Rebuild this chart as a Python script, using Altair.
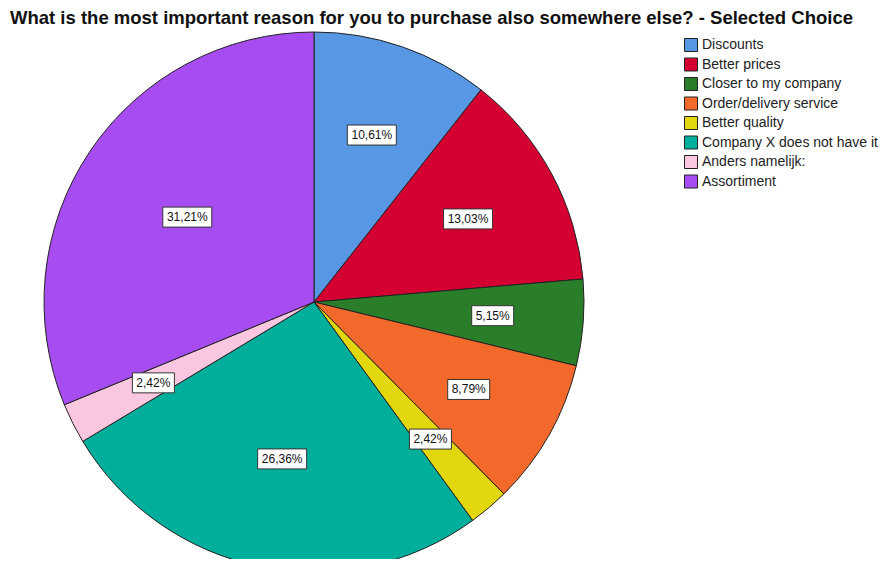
import altair as alt
import pandas as pd

categories = ["Discounts", "Better prices", "Closer to my company", "Order/delivery service",
              "Better quality", "Company X does not have it", "Anders namelijk:", "Assortiment"]
percent = [10.61, 13.03, 5.15, 8.79, 2.42, 26.36, 2.42, 31.21]
labels = ["10,61%", "13,03%", "5,15%", "8,79%", "2,42%", "26,36%", "2,42%", "31,21%"]
colors = ["#5797E4", "#D50032", "#2A7E2A", "#F3692C", "#E2D60C", "#00AF9B", "#FBC6DF", "#A64CF0"]

df = pd.DataFrame({"cat": categories, "v": percent, "lab": labels, "idx": list(range(len(categories)))})

CX, CY, R = 306, 294, 270

base = alt.Chart(df)

color = alt.Color("cat:N", scale=alt.Scale(domain=categories, range=colors),
                  legend=alt.Legend(title=None, orient="none", legendX=676, legendY=30,
                                    symbolType="square", symbolSize=169, symbolStrokeColor="#222",
                                    symbolStrokeWidth=1, labelFont="Liberation Sans", labelFontSize=14,
                                    labelColor="#222", rowPadding=1.5, padding=0, labelOffset=4,
                                    labelLimit=300))

pie = base.mark_arc(outerRadius=R, stroke="#222", strokeWidth=1).encode(
    theta=alt.Theta("v:Q", stack=True),
    color=color,
    order=alt.Order("idx:Q"),
    x=alt.value(CX), y=alt.value(CY),
)

pos = base.transform_window(cum="sum(v)", sort=[alt.SortField("idx")], frame=[None, 0]).transform_joinaggregate(
    tot="sum(v)").transform_calculate(
    ang="(datum.cum - datum.v/2) / datum.tot * 2 * PI",
    half="datum.v / datum.tot * PI",
).transform_calculate(
    lr=f"2 * {R} * sin(datum.half) / (3 * datum.half)",
).transform_calculate(
    lx=f"{CX} + datum.lr * sin(datum.ang)",
    ly=f"{CY} - datum.lr * cos(datum.ang)",
    w="7 * length(datum.lab) + 7",
).transform_calculate(
    x1="datum.lx - datum.w/2", x2="datum.lx + datum.w/2",
    y1="datum.ly - 10", y2="datum.ly + 10",
)

boxes = pos.mark_rect(fill="white", stroke="#333", strokeWidth=1).encode(
    x=alt.X("x1:Q", scale=None), x2="x2:Q",
    y=alt.Y("y1:Q", scale=None), y2="y2:Q",
)
texts = pos.mark_text(font="Liberation Sans", fontSize=12, color="#111").encode(
    x=alt.X("lx:Q", scale=None), y=alt.Y("ly:Q", scale=None), text="lab:N",
)

title = alt.Chart(pd.DataFrame({"t": ["What is the most important reason for you to purchase also somewhere else? - Selected Choice"]})).mark_text(
    font="Liberation Sans", fontWeight="bold", fontSize=18.5, align="left", baseline="alphabetic", color="#111"
).encode(x=alt.value(2), y=alt.value(16), text="t:N")

chart = alt.layer(pie, boxes, texts, title).properties(
    width=875, height=551, autosize=alt.AutoSizeParams(type="none"), padding=0
).configure_view(stroke=None)

chart.save("out.html", embed_options={"renderer": "svg", "actions": False})
